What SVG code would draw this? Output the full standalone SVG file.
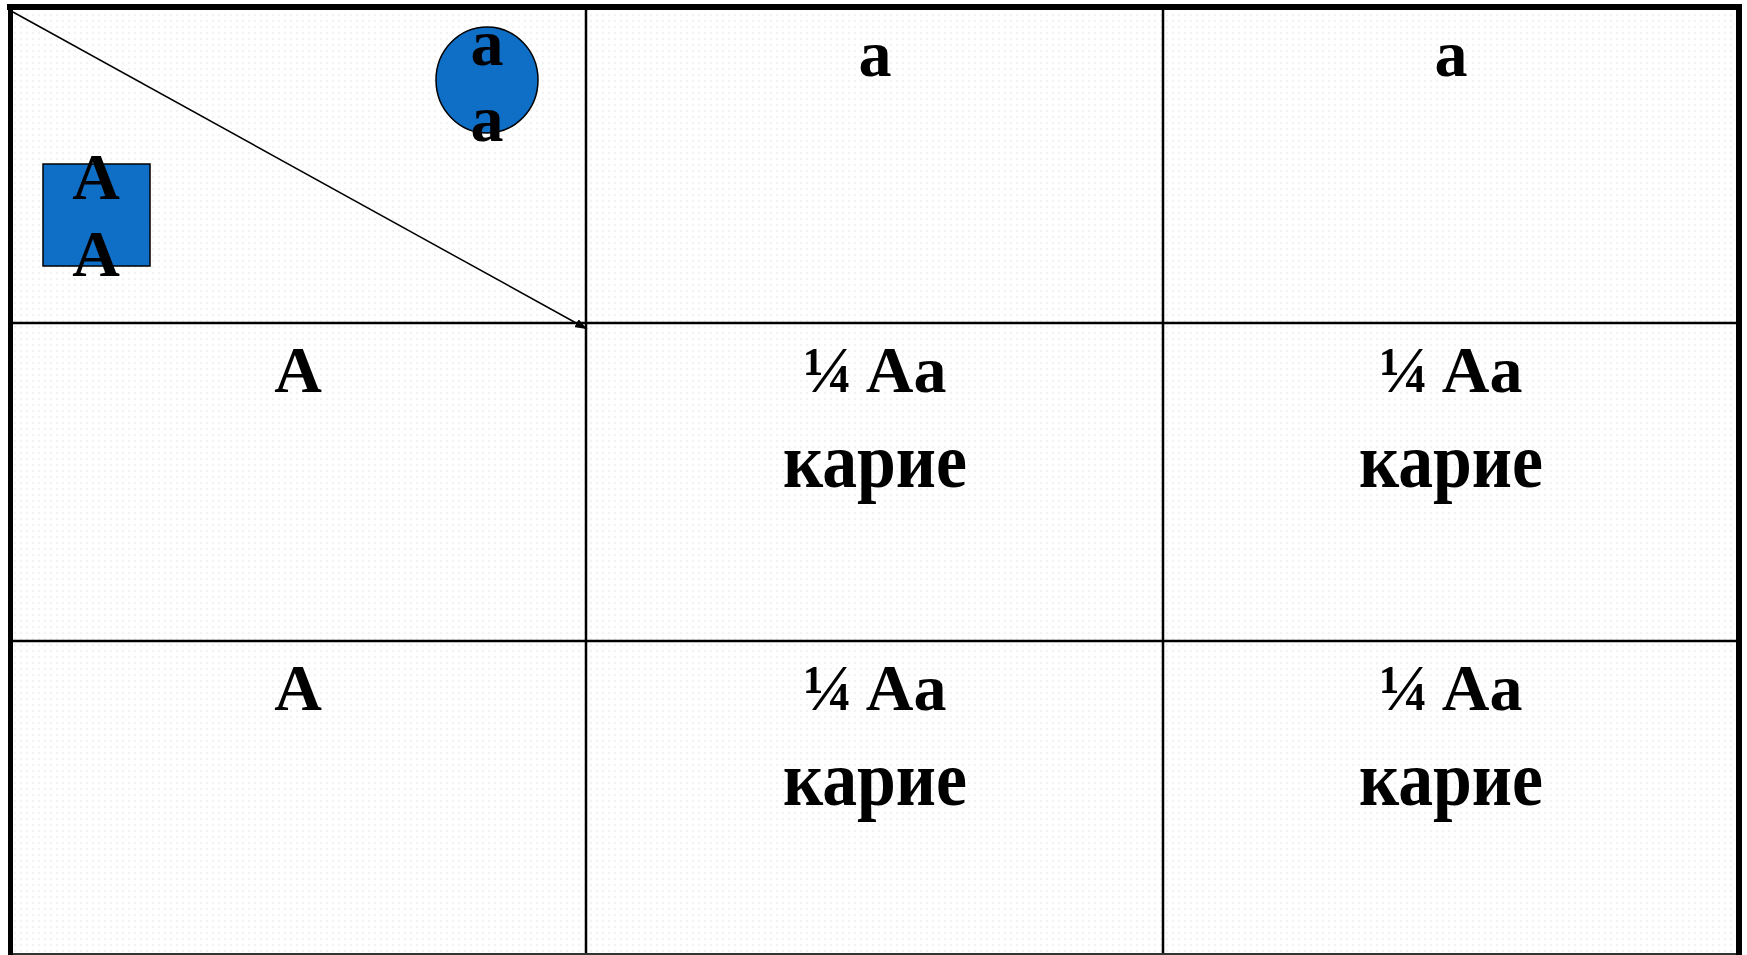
<svg xmlns="http://www.w3.org/2000/svg" width="1747" height="955" viewBox="0 0 1747 955">
<defs>
<style>
.t{font-family:"Liberation Serif","DejaVu Serif",serif;font-weight:bold;font-size:66px;fill:#000;text-anchor:middle}
.k{font-size:78px}
.g{stroke:#000;stroke-width:2.5;fill:none}
.shape{fill:#0F6FC6;stroke:#000;stroke-width:1.5}
</style>
<pattern id="bg" width="6" height="6" patternUnits="userSpaceOnUse">
<rect width="6" height="6" fill="#ffffff"/>
<circle cx="3" cy="3" r="1.2" fill="#f3f3f3"/>
</pattern>
<marker id="arr" viewBox="0 0 12 9" refX="12" refY="4.5" markerWidth="12" markerHeight="9" markerUnits="userSpaceOnUse" orient="auto">
<path d="M0,0 L12,4.5 L0,9 z" fill="#000"/>
</marker>
</defs>
<rect width="1747" height="955" fill="#ffffff"/>
<rect x="10" y="7" width="1729" height="948" fill="url(#bg)"/>

<g id="grid">
<line class="g" x1="586" y1="7" x2="586" y2="955"/>
<line class="g" x1="1163" y1="7" x2="1163" y2="955"/>
<line class="g" x1="10" y1="323" x2="1739" y2="323"/>
<line class="g" x1="10" y1="641" x2="1739" y2="641"/>
<line stroke="#333" stroke-width="2" x1="10" y1="954" x2="1739" y2="954"/>
<line stroke="#000" stroke-width="6" x1="7" y1="7" x2="1742" y2="7"/>
<line stroke="#000" stroke-width="5" x1="10.5" y1="4" x2="10.5" y2="955"/>
<line stroke="#000" stroke-width="6" x1="1739" y1="4" x2="1739" y2="955"/>
</g>

<g id="connectors">
<line x1="13" y1="12" x2="587" y2="329" stroke="#000" stroke-width="1.5" marker-end="url(#arr)"/>
</g>

<g id="female">
<ellipse class="shape" cx="487" cy="80" rx="51" ry="53"/>
<text class="t" x="487" y="65">a</text>
<text class="t" x="487" y="141">a</text>
</g>

<g id="male">
<rect class="shape" x="43" y="164" width="107" height="102"/>
<text class="t" x="96" y="199">A</text>
<text class="t" x="96" y="276">A</text>
</g>

<g id="h1"><text class="t" x="875" y="76">a</text></g>
<g id="h2"><text class="t" x="1451" y="76">a</text></g>
<g id="r1"><text class="t" x="298" y="392">A</text></g>
<g id="r2"><text class="t" x="298" y="710">A</text></g>

<g id="c11"><text class="t" x="875" y="392">¼ Aa</text><text class="t k" x="875" y="487" textLength="184" lengthAdjust="spacingAndGlyphs">карие</text></g>
<g id="c12"><text class="t" x="1451" y="392">¼ Aa</text><text class="t k" x="1451" y="487" textLength="184" lengthAdjust="spacingAndGlyphs">карие</text></g>
<g id="c21"><text class="t" x="875" y="710">¼ Aa</text><text class="t k" x="875" y="805" textLength="184" lengthAdjust="spacingAndGlyphs">карие</text></g>
<g id="c22"><text class="t" x="1451" y="710">¼ Aa</text><text class="t k" x="1451" y="805" textLength="184" lengthAdjust="spacingAndGlyphs">карие</text></g>
</svg>
